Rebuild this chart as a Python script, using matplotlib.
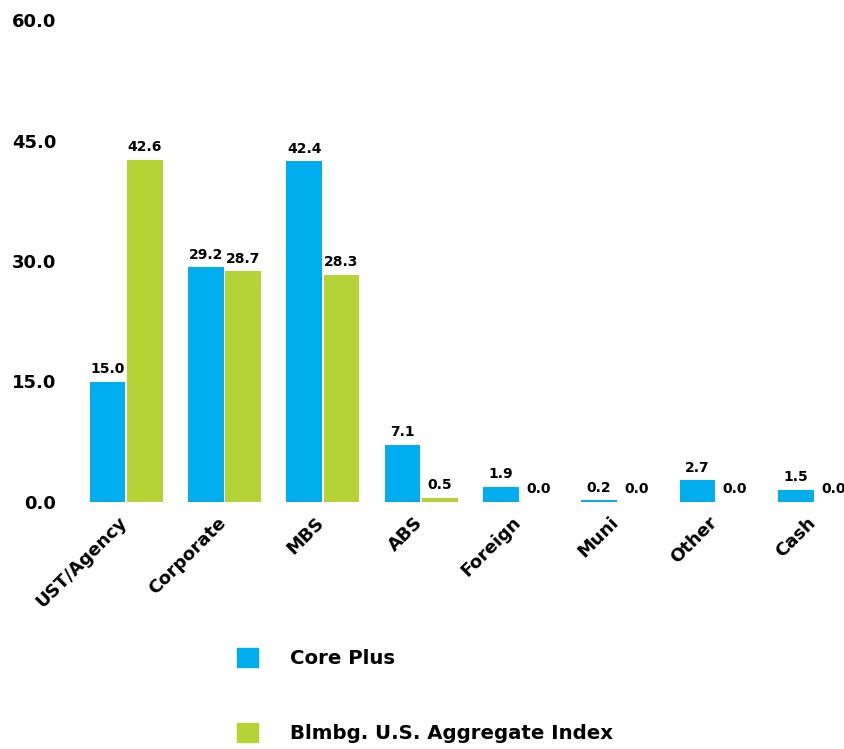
import matplotlib
matplotlib.use('Agg')
import matplotlib.pyplot as plt
import matplotlib.patches as mpatches
import matplotlib.transforms as mtransforms
import numpy as np

plt.rcParams['font.family'] = 'DejaVu Sans'
plt.rcParams['font.weight'] = 'bold'

# Sector weights (%)
sectors = ['UST/Agency', 'Corporate', 'MBS', 'ABS', 'Foreign', 'Muni', 'Other', 'Cash']
core_plus = [15.0, 29.2, 42.4, 7.1, 1.9, 0.2, 2.7, 1.5]
aggregate = [42.6, 28.7, 28.3, 0.5, 0.0, 0.0, 0.0, 0.0]
series_names = ['Core Plus', 'Blmbg. U.S. Aggregate Index']
y_ticks = [0, 15, 30, 45, 60]

blue = '#00AEEF'
green = '#B5D334'

fig = plt.figure(figsize=(8.44, 7.49), dpi=100)
ax = fig.add_axes([77 / 844, 247 / 749, 767 / 844, 482 / 749])

x = np.arange(len(sectors))
w = 0.36
b1 = ax.bar(x - 0.19, core_plus, w, color=blue, linewidth=0)
b2 = ax.bar(x + 0.19, aggregate, w, color=green, linewidth=0)

for bars, vals in ((b1, core_plus), (b2, aggregate)):
    for rect, v in zip(bars, vals):
        ax.annotate(f'{v:.1f}', xy=(rect.get_x() + rect.get_width() / 2, v),
                    xytext=(0, 4), textcoords='offset points',
                    ha='center', va='bottom', fontsize=10, fontweight='bold')

ax.set_ylim(0, 60)
ax.set_xlim(-0.5, 7.3)
ax.set_yticks(y_ticks)
ax.set_yticklabels([f'{t:.1f}' for t in y_ticks], fontsize=13, fontweight='bold')
ax.set_xticks(x)
ax.set_xticklabels(sectors, rotation=45, ha='right', rotation_mode='anchor',
                   fontsize=13, fontweight='bold')
ax.tick_params(axis='both', length=0)
ax.tick_params(axis='y', pad=15)
ax.tick_params(axis='x', pad=4)
# nudge the slanted category labels down and to the left
shift = mtransforms.ScaledTranslation(-8 / 100, -6 / 100, fig.dpi_scale_trans)
for lbl in ax.get_xticklabels():
    lbl.set_transform(lbl.get_transform() + shift)
for s in ax.spines.values():
    s.set_visible(False)

handles = [mpatches.Patch(color=blue), mpatches.Patch(color=green)]
fig.legend(handles, series_names, loc='upper left',
           bbox_to_anchor=(237 / 844, 1 - 648 / 749),
           frameon=False, prop={'weight': 'bold', 'size': 14.2},
           handlelength=1.08, handleheight=1.08, handletextpad=1.6,
           labelspacing=2.8, borderpad=0, borderaxespad=0)

fig.savefig('out.png', dpi=100)
